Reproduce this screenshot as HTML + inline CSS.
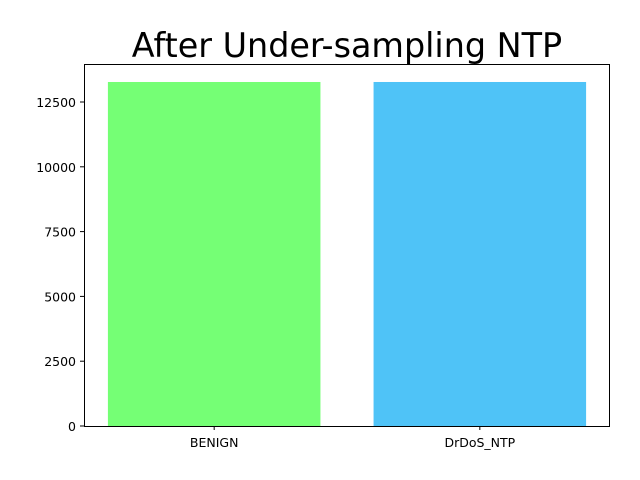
<!DOCTYPE html>
<html><head><meta charset="utf-8"><style>
body{margin:0;background:#fff}
svg{display:block;font-family:"DejaVu Sans","Liberation Sans",sans-serif}
</style></head><body>
<svg id="chart" width="640" height="480">
<text x="347" y="57" font-size="33.4" text-anchor="middle">After Under-sampling NTP</text>
</svg>
<script>
const categories = ["BENIGN", "DrDoS_NTP"];
const values = [13272, 13272];
const colors = ["#75ff75", "#4fc3f7"];
const yTicks = [0, 2500, 5000, 7500, 10000, 12500];

const svg = document.getElementById('chart');
const NS = 'http://www.w3.org/2000/svg';
const L = 84, R = 610, T = 64, B = 426;
const xMin = -0.49, xMax = 1.49, yMax = 12500 * (B - T) / (B - 102);
function x(v){ return L + (v - xMin) / (xMax - xMin) * (R - L); }
function y(v){ return B - v / yMax * (B - T); }
function mk(tag, attrs){ const e = document.createElementNS(NS, tag); for (const k in attrs) e.setAttribute(k, attrs[k]); svg.appendChild(e); return e; }

categories.forEach((c, i) => {
  const r = mk('rect', {x: x(i - 0.4), y: y(values[i]), width: x(i + 0.4) - x(i - 0.4), height: B - y(values[i]), fill: colors[i]});
  
  
  const tk = mk('line', {x1: x(i), x2: x(i), y1: B, y2: B + 4, stroke: '#000'});
  
  
  const t = mk('text', {x: x(i), y: B + 21, 'font-size': 12.5, 'text-anchor': 'middle'});
  t.textContent = c;
  
  
});
yTicks.forEach(v => {
  const tk = mk('line', {x1: L - 4, x2: L, y1: y(v), y2: y(v), stroke: '#000'});
  
  
  const t = mk('text', {x: L - 8, y: y(v) + 5, 'font-size': 12.5, 'text-anchor': 'end'});
  t.textContent = v;
  
  
});
const frame = mk('rect', {x: L + 0.5, y: T + 0.5, width: R - L - 1, height: B - T, fill: 'none', stroke: '#000', 'stroke-width': 1});


</script>
</body></html>
